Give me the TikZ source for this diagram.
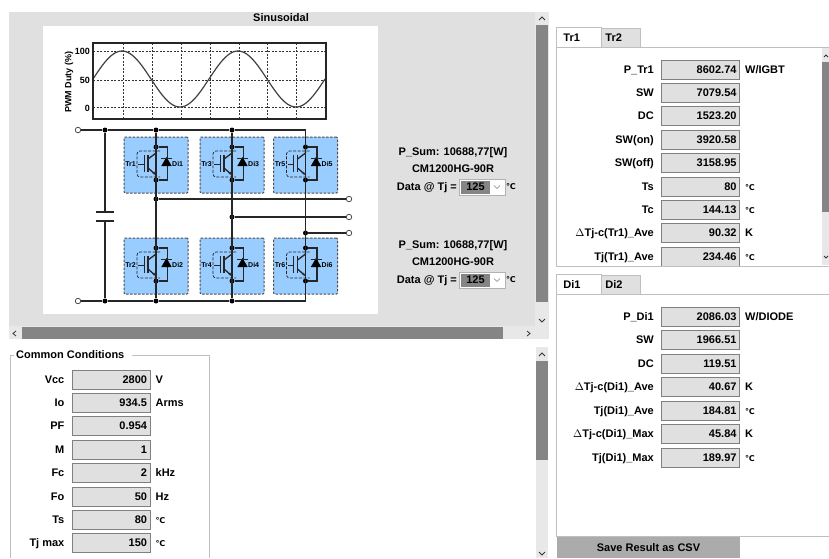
\documentclass[tikz,border=0pt]{standalone}
\usepackage{fontspec}
\setmainfont{Liberation Sans}
\newfontfamily\symfont{DejaVu Sans}
\usetikzlibrary{positioning,arrows.meta,shapes.geometric}
\definecolor{panelgrey}{HTML}{E0E0E0}
\definecolor{trackgrey}{HTML}{E8E8E8}
\definecolor{thumbgrey}{HTML}{858585}
\definecolor{cellblue}{HTML}{99CCFF}
\newcommand{\degc}{{\symfont\bfseries\fontsize{8}{8}\selectfont ℃}}
% one row: name, field centre, caption, value, unit
\newcommand{\resultrow}[6]{
\node[field] (#1) at (#2,#3){#5};
\node[caption, left=7pt of #1] (#1c){#4};
\node[unit, right=5pt of #1] (#1u){#6};
}
% one switch cell: name, centre, labels
\newcommand{\switchcell}[5]{
\node[cellbox] (#1box) at (#2,#3){};
\node[dot] (#1t) at (#2,#3-18){};
\node[dot] (#1b) at (#2,#3+15){};
\coordinate (#1tr) at (#2+11.5,#3-18);
\coordinate (#1br) at (#2+11.5,#3+15);
\node[tiny, anchor=east] (#1l) at (#2-20,#3-1){#4};
\node[tiny, anchor=west] (#1r) at (#2+16,#3-1){#5};
\draw[wire] (#1t) -- (#1tr) -- (#1br) -- (#1b);
\node[diode] (#1d) at (#2+10.5,#3-2){};
\draw[wire] (#2+5,#3-6.5) -- (#2+16,#3-6.5);
\draw[black!85, line width=0.7pt, dash pattern=on 3pt off 1.5pt, rounded corners=3pt] (#2+4,#3-14) -- (#2-19,#3-14) -- (#2-19,#3+12) -- (#2+4,#3+12);
\draw[wire] (#1t) -- (#2,#3-12) -- (#2-8,#3-6);
\draw[wire, -{Stealth[length=3.5pt]}] (#2-8,#3+3) -- (#2,#3+10);
\draw[wire] (#2,#3+10) -- (#1b);
\draw[wire] (#2-8,#3-10) -- (#2-8,#3+7);
\draw[black!85, line width=0.8pt] (#2-12,#3-10) -- (#2-12,#3+7) (#2-12,#3-1) -- (#2-18,#3-1);
}

\begin{document}
\begin{tikzpicture}[x=1pt, y=-1pt]
\tikzset{txt/.style = {font=\bfseries\fontsize{11}{11}\selectfont, inner sep=0pt, text height=9pt, text depth=1.5pt}}
\tikzset{field/.style = {txt, draw=gray, line width=0.9pt, fill=panelgrey, minimum width=78pt, minimum height=19pt, text width=72pt, align=right}}
\tikzset{caption/.style = {txt, anchor=east}}
\tikzset{unit/.style = {txt, anchor=west}}
\tikzset{tab/.style = {txt, draw=black!25, line width=0.9pt, minimum height=19pt, anchor=north west, text width=31pt, align=left}}
\tikzset{small/.style = {inner sep=0pt, font=\bfseries\fontsize{9}{9}\selectfont}}
\tikzset{tiny/.style = {inner sep=0pt, font=\bfseries\fontsize{7}{7}\selectfont}}
\tikzset{wire/.style = {draw=black!85, line width=1.3pt}}
\tikzset{grid/.style = {draw=black!80, line width=0.9pt, dash pattern=on 2pt off 1.5pt}}
\tikzset{dot/.style = {shape=circle, fill=black, inner sep=0pt, minimum size=5pt}}
\tikzset{term/.style = {shape=circle, draw=black!70, fill=white, line width=0.8pt, inner sep=0pt, minimum size=5.5pt}}
\tikzset{cellbox/.style = {draw=black!70, dash pattern=on 2.5pt off 1.5pt, line width=1pt, rounded corners=1pt, fill=cellblue, minimum width=64pt, minimum height=56pt, inner sep=0pt}}
\tikzset{diode/.style = {shape=regular polygon, regular polygon sides=3, fill=black, inner sep=0pt, minimum size=12pt}}
\tikzset{chev/.style = {draw=black!80, line width=0.8pt}}
\useasboundingbox (0,0) rectangle (829,558);
\fill[white] (0,0) rectangle (829,558);

% Sinusoidal panel
\fill[panelgrey] (9,12) rectangle (535,326);
\fill[trackgrey] (535,12) rectangle (549,339);
\fill[trackgrey] (9,326) rectangle (535,339);
\fill[thumbgrey] (536,25) rectangle (548,302);
\fill[thumbgrey] (22,327) rectangle (503,339);
\draw[chev] (539,20) -- (542,17) -- (545,20);
\draw[chev] (539,319) -- (542,322) -- (545,319);
\draw[chev] (16,331) -- (13,333.5) -- (16,336);
\draw[chev] (527,331) -- (530,333.5) -- (527,336);
\node[txt] (title) at (281,18){Sinusoidal};
\fill[white] (43,26) rectangle (378,314);

% Duty plot
\draw[grid] (123,43) -- (123,119) (152,43) -- (152,119) (181,43) -- (181,119) (210,43) -- (210,119);
\draw[grid] (239,43) -- (239,119) (267,43) -- (267,119) (296,43) -- (296,119);
\draw[grid] (93,51) -- (326,51) (93,80) -- (326,80) (93,107) -- (326,107);
\draw[black!75, line width=1.2pt, domain=0:232, samples=120, smooth] plot (93+\x, {79-28*sin(\x/116*360)});
\draw[black!85, line width=1.3pt] (93,43) rectangle (326,119);
\node[small, anchor=east] (y100) at (90,51){100};
\node[small, anchor=east] (y50) at (90,80){50};
\node[small, anchor=east] (y0) at (90,108){0};
\node[small, rotate=90] (ylabel) at (69,82){PWM Duty (\%)};

% Circuit
\node[term] (dcp) at (78,130){};
\node[term] (dcn) at (78,301){};
\node[dot] (capt) at (105,130){};
\node[dot] (capb) at (105,301){};
\coordinate (capu) at (105,212);
\coordinate (capl) at (105,221);
\draw[wire] (capt) -- (capu) (capl) -- (capb);
\draw[wire] (96,212) -- (114,212) (96,221) -- (114,221);
\switchcell{a}{156}{165}{Tr1}{Di1}
\switchcell{b}{232}{165}{Tr3}{Di3}
\switchcell{c}{305.5}{165}{Tr5}{Di5}
\switchcell{d}{156}{266}{Tr2}{Di2}
\switchcell{e}{232}{266}{Tr4}{Di4}
\switchcell{f}{305.5}{266}{Tr6}{Di6}
\node[dot] (at) at (156,130){};
\node[dot] (bt) at (232,130){};
\node[dot] (ab) at (156,301){};
\node[dot] (bb) at (232,301){};
\coordinate (ct) at (305.5,130);
\coordinate (cb) at (305.5,301);
\node[dot] (u) at (156,199){};
\node[dot] (v) at (232,217){};
\node[dot] (w) at (305.5,233){};
\node[term] (uo) at (349,199){};
\node[term] (vo) at (349,217){};
\node[term] (wo) at (349,233){};
\draw[wire] (dcp) -- (capt) -- (at) -- (bt) -- (ct) -- (cb) -- (bb) -- (ab) -- (capb) -- (dcn);
\draw[wire] (at) -- (ab) (bt) -- (bb);
\draw[wire] (u) -- (uo);
\draw[wire] (v) -- (vo);
\draw[wire] (w) -- (wo);

% Middle captions
\node[txt] (sum1) at (453,152){P\_Sum: 10688,77[W]};
\node[txt] (mod1) at (453,169){CM1200HG-90R};
\node[txt, anchor=east] (data1) at (457,187){Data @ Tj =};
\node[draw=black!30, fill=white, minimum width=46pt, minimum height=16pt, inner sep=0pt] (box1) at (482,187){};
\node[txt, fill=thumbgrey, minimum width=29pt, minimum height=13pt] (sel1) at (475.5,187){125};
\draw[black!50] (494,185.5) -- (497,188.5) -- (500,185.5);
\node[anchor=west, inner sep=0pt] (deg1) at (506,187){\degc};
\node[txt] (sum2) at (453,245){P\_Sum: 10688,77[W]};
\node[txt] (mod2) at (453,262){CM1200HG-90R};
\node[txt, anchor=east] (data2) at (457,280){Data @ Tj =};
\node[draw=black!30, fill=white, minimum width=46pt, minimum height=16pt, inner sep=0pt] (box2) at (482,280){};
\node[txt, fill=thumbgrey, minimum width=29pt, minimum height=13pt] (sel2) at (475.5,280){125};
\draw[black!50] (494,278.5) -- (497,281.5) -- (500,278.5);
\node[anchor=west, inner sep=0pt] (deg2) at (506,280){\degc};

% Common conditions
\draw[black!25, line width=0.9pt] (14,355) -- (10,355) -- (10,558) (209,558) -- (209,355) -- (132,355);
\node[txt, anchor=west] (common) at (16,355){Common Conditions};
\resultrow{vcc}{111}{380}{Vcc}{2800}{V}
\resultrow{io}{111}{403}{Io}{934.5}{Arms}
\resultrow{pf}{111}{426}{PF}{0.954}{}
\resultrow{mi}{111}{450}{M}{1}{}
\resultrow{fc}{111}{473}{Fc}{2}{kHz}
\resultrow{fo}{111}{497}{Fo}{50}{Hz}
\resultrow{ts}{111}{520}{Ts}{80}{\degc}
\resultrow{tj}{111}{543}{Tj max}{150}{\degc}
\fill[trackgrey] (536,347) rectangle (548,558);
\fill[thumbgrey] (536,361) rectangle (548,460);
\draw[chev] (539,356) -- (542,353) -- (545,356);
\draw[chev] (539,552) -- (542,555) -- (545,552);

% Tr tabs
\draw[black!25, line width=0.9pt] (601,47) -- (829,47) (556,47) -- (556,266) -- (829,266);
\node[tab, fill=panelgrey, inner xsep=4pt] (tr2) at (601,28){Tr2};
\node[tab, fill=white, inner xsep=7pt, minimum height=20pt] (tr1) at (556,27){Tr1};
\fill[trackgrey] (822,48) rectangle (829,265);
\fill[thumbgrey] (822,62) rectangle (829,212);
\draw[chev] (824,57) -- (826,55) -- (828,57);
\draw[chev] (824,256) -- (826,258) -- (828,256);
\resultrow{ptr}{700.5}{70}{P\_Tr1}{8602.74}{W/IGBT}
\resultrow{swt}{700.5}{93}{SW}{7079.54}{}
\resultrow{dct}{700.5}{116}{DC}{1523.20}{}
\resultrow{son}{700.5}{140}{SW(on)}{3920.58}{}
\resultrow{sof}{700.5}{163}{SW(off)}{3158.95}{}
\resultrow{tst}{700.5}{187}{Ts}{80}{\degc}
\resultrow{tct}{700.5}{210}{Tc}{144.13}{\degc}
\resultrow{dtt}{700.5}{233}{$\Delta$Tj-c(Tr1)\_Ave}{90.32}{K}
\begin{scope}
\clip (556,247) rectangle (829,265);
\resultrow{tjt}{700.5}{257}{Tj(Tr1)\_Ave}{234.46}{\degc}
\end{scope}

% Di tabs
\draw[black!25, line width=0.9pt] (601,294) -- (829,294) (556,294) -- (556,536) -- (829,536);
\node[tab, fill=panelgrey, inner xsep=4pt] (di2) at (601,275){Di2};
\node[tab, fill=white, inner xsep=7pt, minimum height=20pt] (di1) at (556,274){Di1};
\resultrow{pdi}{700.5}{317}{P\_Di1}{2086.03}{W/DIODE}
\resultrow{swd}{700.5}{340}{SW}{1966.51}{}
\resultrow{dcd}{700.5}{364}{DC}{119.51}{}
\resultrow{dta}{700.5}{387}{$\Delta$Tj-c(Di1)\_Ave}{40.67}{K}
\resultrow{tja}{700.5}{411}{Tj(Di1)\_Ave}{184.81}{\degc}
\resultrow{dtm}{700.5}{434}{$\Delta$Tj-c(Di1)\_Max}{45.84}{K}
\resultrow{tjm}{700.5}{458}{Tj(Di1)\_Max}{189.97}{\degc}
\node[txt, fill=black!33, minimum width=183pt, minimum height=21pt] (save) at (648.5,547.5){Save Result as CSV};

\end{tikzpicture}
\end{document}
